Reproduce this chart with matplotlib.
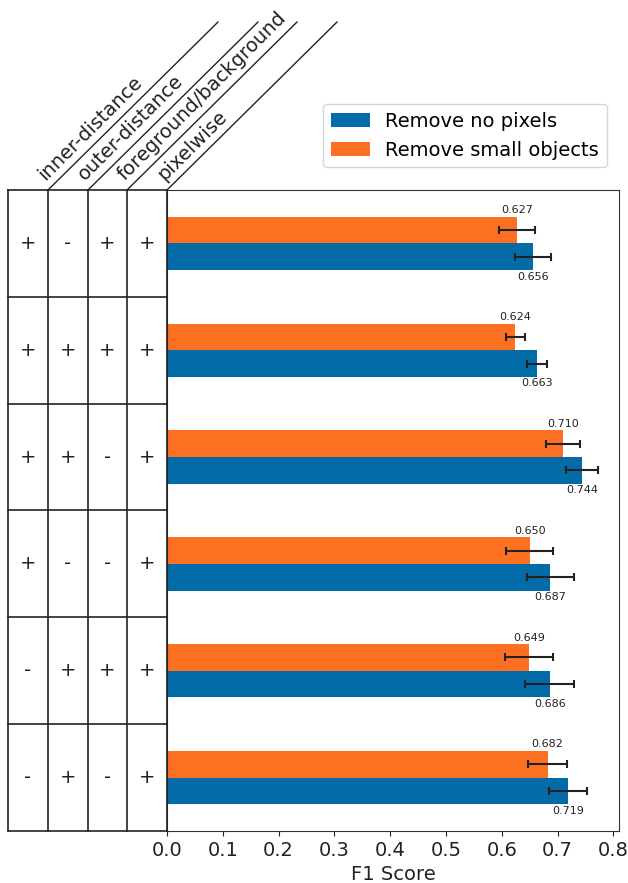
import matplotlib.pyplot as plt
from matplotlib.lines import Line2D

# Loss components used in each model (top row first)
components = ['inner-distance', 'outer-distance', 'foreground/background', 'pixelwise']
settings = [
    ['+', '-', '+', '+'],
    ['+', '+', '+', '+'],
    ['+', '+', '-', '+'],
    ['+', '-', '-', '+'],
    ['-', '+', '+', '+'],
    ['-', '+', '-', '+'],
]

# F1 scores and error bars, top row first
f1_no_removal = [0.656, 0.663, 0.744, 0.687, 0.686, 0.719]
err_no_removal = [0.032, 0.018, 0.029, 0.042, 0.044, 0.034]
f1_small_removed = [0.627, 0.624, 0.710, 0.650, 0.649, 0.682]
err_small_removed = [0.032, 0.017, 0.030, 0.042, 0.043, 0.035]

blue = '#036BA8'
orange = '#FD7022'

W, H = 628, 883
fig = plt.figure(figsize=(W / 100, H / 100), dpi=100)


def px(x, y):
    return x / W, 1 - y / H


top, bottom = 190, 831
col_edges = [8, 48, 88, 127, 167]
ax = fig.add_axes([167 / W, 1 - bottom / H, (619 - 167) / W, (bottom - top) / H])
tab = fig.add_axes([8 / W, 1 - bottom / H, (167 - 8) / W, (bottom - top) / H])

n = len(f1_no_removal)
ypos = [n - 1 - i for i in range(n)]
h = 0.25

ax.barh([y - h / 2 for y in ypos], f1_no_removal, height=h, color=blue,
        xerr=err_no_removal, capsize=3, error_kw=dict(elinewidth=1.5, capthick=1.5, ecolor='#222222'),
        label='Remove no pixels')
ax.barh([y + h / 2 for y in ypos], f1_small_removed, height=h, color=orange,
        xerr=err_small_removed, capsize=3, error_kw=dict(elinewidth=1.5, capthick=1.5, ecolor='#222222'),
        label='Remove small objects')

for y, v in zip(ypos, f1_no_removal):
    ax.annotate(f'{v:.3f}', (v, y - h), xytext=(0, -1), textcoords='offset points',
                ha='center', va='top', fontsize=8, color='#222222')
for y, v in zip(ypos, f1_small_removed):
    ax.annotate(f'{v:.3f}', (v, y + h), xytext=(0, 1), textcoords='offset points',
                ha='center', va='bottom', fontsize=8, color='#222222')

ax.set_ylim(-0.5, n - 0.5)
ax.set_xlim(0, 0.81)
ax.set_xticks([0.0, 0.1, 0.2, 0.3, 0.4, 0.5, 0.6, 0.7, 0.8])
ax.tick_params(axis='x', labelsize=14, colors='#222222')
ax.set_yticks([])
ax.set_xlabel('F1 Score', fontsize=14, color='#222222')
for s in ax.spines.values():
    s.set_color('#333333')

# Table of loss components on the left
tab.set_xlim(0, 4)
tab.set_ylim(-0.5, n - 0.5)
tab.axis('off')
for j in range(5):
    tab.plot([j, j], [-0.5, n - 0.5], color='#222222', lw=1.2, clip_on=False)
for k in range(n + 1):
    tab.plot([0, 4], [k - 0.5, k - 0.5], color='#222222', lw=1.2, clip_on=False)
for i, row in enumerate(settings):
    for j, mark in enumerate(row):
        tab.text(j + 0.5, ypos[i], mark, ha='center', va='center', fontsize=14, color='#222222')

# Slanted column headers
for j, name in enumerate(components):
    xr = col_edges[j + 1]
    fig.add_artist(Line2D([px(xr, top)[0], px(xr + 170, 22)[0]],
                          [px(xr, top)[1], px(xr + 170, 22)[1]],
                          transform=fig.transFigure, color='#222222', lw=1.0))
    fig.text(*px(xr, top - 6), name, rotation=45, rotation_mode='anchor',
             ha='left', va='bottom', fontsize=14, color='#222222')

fig.legend(loc='upper left', bbox_to_anchor=px(323, 104), borderaxespad=0,
           fontsize=14, frameon=True)

fig.savefig('out.png', dpi=100)
